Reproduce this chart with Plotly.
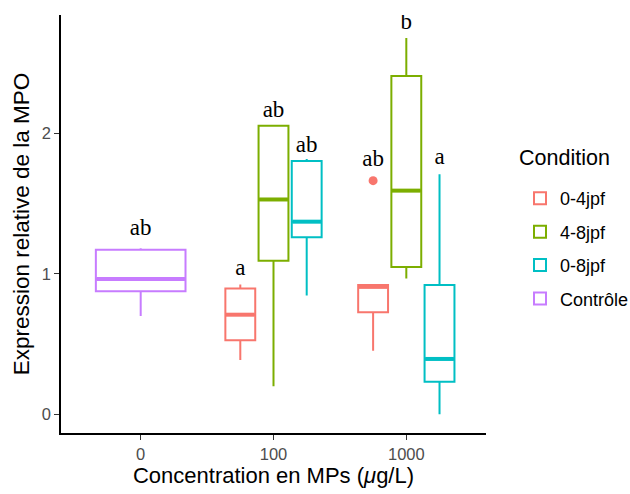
import plotly.graph_objects as go

# Concentration categories on the x axis
concentrations = ["0", "100", "1000"]

# Conditions, in legend / dodge order, with their colours
conditions = ["0-4jpf", "4-8jpf", "0-8jpf", "Contrôle"]
colors = ["#F8766D", "#7CAE00", "#00BFC4", "#C77CFF"]

# Box statistics per condition (one value per concentration where present)
conc_04 = ["100", "1000"]
low_04 = [0.386, 0.452]
q1_04 = [0.528, 0.726]
med_04 = [0.709, 0.907]
q3_04 = [0.895, 0.921]
up_04 = [0.924, 0.921]
out_x_04 = ["1000"]
out_y_04 = [1.663]
letters_04 = ["a", "ab"]
letter_y_04 = [1.03, 1.81]

conc_48 = ["100", "1000"]
low_48 = [0.200, 0.966]
q1_48 = [1.093, 1.048]
med_48 = [1.529, 1.592]
q3_48 = [2.054, 2.408]
up_48 = [2.060, 2.678]
letters_48 = ["ab", "b"]
letter_y_48 = [2.16, 2.78]

conc_08 = ["100", "1000"]
low_08 = [0.846, 0.000]
q1_08 = [1.260, 0.231]
med_08 = [1.371, 0.394]
q3_08 = [1.802, 0.921]
up_08 = [1.818, 1.708]
letters_08 = ["ab", "a"]
letter_y_08 = [1.91, 1.82]

conc_ct = ["0"]
low_ct = [0.700]
q1_ct = [0.876]
med_ct = [0.963]
q3_ct = [1.171]
up_ct = [1.182]
letters_ct = ["ab"]
letter_y_ct = [1.32]

series = [
    dict(conc=conc_04, low=low_04, q1=q1_04, med=med_04, q3=q3_04, up=up_04,
         letters=letters_04, ly=letter_y_04, out_x=out_x_04, out_y=out_y_04),
    dict(conc=conc_48, low=low_48, q1=q1_48, med=med_48, q3=q3_48, up=up_48,
         letters=letters_48, ly=letter_y_48, out_x=[], out_y=[]),
    dict(conc=conc_08, low=low_08, q1=q1_08, med=med_08, q3=q3_08, up=up_08,
         letters=letters_08, ly=letter_y_08, out_x=[], out_y=[]),
    dict(conc=conc_ct, low=low_ct, q1=q1_ct, med=med_ct, q3=q3_ct, up=up_ct,
         letters=letters_ct, ly=letter_y_ct, out_x=[], out_y=[]),
]

# Dodge layout: groups present at each concentration share a 0.75-wide slot
DODGE = 0.75
PAD = 0.9
present = {c: [i for i, s in enumerate(series) if c in s["conc"]] for c in concentrations}


def position(ci, conc):
    idx = concentrations.index(conc) + 1
    groups = present[conc]
    n = len(groups)
    slot = DODGE / n
    k = groups.index(ci)
    center = idx - DODGE / 2 + slot * (k + 0.5)
    return center, slot * PAD


fig = go.Figure()

for ci, s in enumerate(series):
    xs, ws = zip(*(position(ci, c) for c in s["conc"]))
    fig.add_trace(go.Box(
        x=list(xs), q1=s["q1"], median=s["med"], q3=s["q3"],
        lowerfence=s["low"], upperfence=s["up"],
        width=ws[0], name=conditions[ci],
        line=dict(color=colors[ci], width=2), fillcolor="white",
        boxpoints=False, whiskerwidth=0, legendgroup=conditions[ci],
        hoverinfo="skip",
    ))

for ci, s in enumerate(series):
    for c, m in zip(s["conc"], s["med"]):
        x0, w = position(ci, c)
        fig.add_trace(go.Scatter(
            x=[x0 - w / 2 + 0.004, x0 + w / 2 - 0.004], y=[m, m], mode="lines",
            line=dict(color=colors[ci], width=4), showlegend=False, hoverinfo="skip",
        ))
    if s["out_x"]:
        ox = [position(ci, c)[0] for c in s["out_x"]]
        fig.add_trace(go.Scatter(
            x=ox, y=s["out_y"], mode="markers",
            marker=dict(color=colors[ci], size=9), showlegend=False, hoverinfo="skip",
        ))
    lx = [position(ci, c)[0] for c in s["conc"]]
    fig.add_trace(go.Scatter(
        x=lx, y=s["ly"], mode="text", text=s["letters"], textposition="middle center",
        textfont=dict(family="Liberation Serif, Times New Roman, serif", size=23, color="black"),
        showlegend=False, hoverinfo="skip",
    ))

axis_common = dict(
    showline=True, linecolor="black", linewidth=1.5, ticks="outside", ticklen=5,
    tickcolor="#333333", tickwidth=1.2, showgrid=False, zeroline=False,
    tickfont=dict(size=16.5, color="#4D4D4D"),
)

fig.update_layout(
    width=630, height=494,
    margin=dict(l=60.5, r=144, t=15, b=61, autoexpand=False),
    paper_bgcolor="white", plot_bgcolor="white",
    font=dict(family="Liberation Sans, Arial, sans-serif", color="black"),
    boxmode="overlay",
    showlegend=True,
    legend=dict(
        font=dict(size=18), x=1.08, xanchor="left", y=0.605, yanchor="top",
        tracegroupgap=7, bgcolor="rgba(0,0,0,0)",
    ),
    annotations=[dict(
        text="Condition", xref="paper", yref="paper", x=1.072, y=0.658,
        xanchor="left", yanchor="middle", showarrow=False,
        font=dict(size=21.5, color="black"),
    )],
    xaxis=dict(
        axis_common, range=[0.4, 3.6], tickmode="array",
        tickvals=[1, 2, 3], ticktext=concentrations,
        title=dict(text="Concentration en MPs (<i>μ</i>g/L)", font=dict(size=22), standoff=4),
    ),
    yaxis=dict(
        axis_common, range=[-0.133, 2.842], tickmode="array", tickvals=[0, 1, 2],
        title=dict(text="Expression relative de la MPO", font=dict(size=22.5), standoff=6),
    ),
)

fig.write_html("out.html")
